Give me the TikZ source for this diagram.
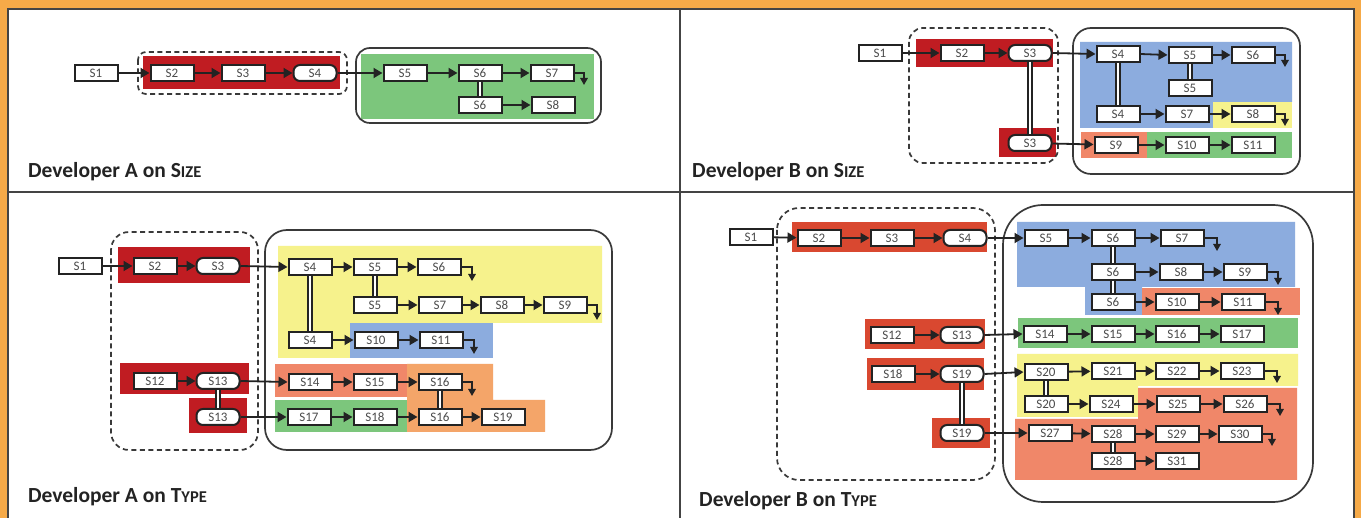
\documentclass[tikz,border=0pt]{standalone}
\usepackage{fontspec}
\setmainfont{Carlito}
\usetikzlibrary{arrows.meta}
\definecolor{frameor}{RGB}{246,170,72}
\definecolor{redA}{RGB}{192,28,34}
\definecolor{redB}{RGB}{217,72,48}
\definecolor{grn}{RGB}{124,198,124}
\definecolor{blu}{RGB}{140,172,222}
\definecolor{yel}{RGB}{246,242,140}
\definecolor{sal}{RGB}{240,135,105}
\definecolor{lor}{RGB}{244,165,105}
\definecolor{ink}{RGB}{35,35,35}
\definecolor{txt}{RGB}{75,75,75}
\tikzset{
  bx/.style={draw=ink, fill=white, line width=2pt, minimum width=43pt, minimum height=16pt, inner sep=0pt, font=\fontsize{13}{13}\selectfont, text=txt},
  rbx/.style={bx, rounded corners=6.5pt},
  arr/.style={draw=ink, line width=1.8pt, -{Triangle[length=9pt,width=10pt]}},
  turn/.style={draw=ink, line width=1.5pt, -{Triangle[length=7pt,width=7.5pt]}},
  dbl/.style={draw=ink, double=white, double distance=2.4pt, line width=1.6pt},
  dsh/.style={draw=ink!90, line width=1.7pt, dash pattern=on 5pt off 3.5pt},
  cont/.style={draw=ink!90, line width=1.7pt},
  captxt/.style={anchor=west, inner sep=0pt, text=ink, font=\bfseries\fontsize{21.5}{24}\selectfont},
  divl/.style={draw=ink!85, line width=2pt}
}
\newcommand{\smc}[1]{{\fontsize{16.5}{18}\selectfont #1}}
\begin{document}
\begin{tikzpicture}[x=1pt,y=-1pt]
\useasboundingbox (0,0) rectangle (1361,518);
% frame
\fill[frameor] (0,0) rectangle (1361,518);
\fill[white] (8,9) rectangle (1355,530);
\draw[divl] (8,530) -- (8,9) -- (1354,9) -- (1354,530);
\draw[divl] (8,192) -- (1354,192);
\draw[divl] (680,9) -- (680,530);

% ===== Panel A on SIZE =====
\fill[grn] (361,54) rectangle (594,119);
\draw[cont,rounded corners=14pt] (356,48) rectangle (601,123);
\fill[redA] (143,56) rectangle (340,89);
\draw[dsh,rounded corners=8pt] (138,52) rectangle (347,94);
\node[bx] (as1) at (96,73) {S1};
\node[bx] (as2) at (172,73) {S2};
\node[bx] (as3) at (243,73) {S3};
\node[rbx] (as4) at (315,73) {S4};
\node[bx] (as5) at (405,73) {S5};
\node[bx] (as6) at (480,73) {S6};
\node[bx] (as7) at (552,73) {S7};
\node[bx] (as6b) at (480,105) {S6};
\node[bx] (as8) at (553,105) {S8};
\coordinate (as7e) at (584,85);
\draw[arr] (as1) -- (as2);
\draw[arr] (as2) -- (as3);
\draw[arr] (as3) -- (as4);
\draw[arr] (as4) -- (as5);
\draw[arr] (as5) -- (as6);
\draw[arr] (as6) -- (as7);
\draw[arr] (as6b) -- (as8);
\draw[dbl] (as6.south) -- (as6b.north);
\draw[turn] (as7.east) -| (as7e);
\node[captxt] (capAS) at (28,172) {Developer A on S\smc{IZE}};

% ===== Panel B on SIZE =====
\fill[blu] (1080,42) -- (1292,42) -- (1292,102) -- (1213,102) -- (1213,128) -- (1080,128) -- cycle;
\fill[yel] (1213,102) rectangle (1292,128);
\fill[sal] (1081,132) rectangle (1147,158);
\fill[grn] (1147,132) rectangle (1292,158);
\draw[cont,rounded corners=18pt] (1073,28) rectangle (1300,174);
\fill[redA] (916,39) rectangle (1053,67);
\fill[redA] (999,128) rectangle (1056,157);
\draw[dsh,rounded corners=14pt] (909,28) rectangle (1058,163);
\node[bx] (bs1) at (880,53) {S1};
\node[bx] (bs2) at (962,53) {S2};
\node[rbx] (bs3) at (1030,53) {S3};
\node[rbx] (bs3b) at (1030,143) {S3};
\node[bx] (bs4) at (1118,54) {S4};
\node[bx] (bs5) at (1190,55) {S5};
\node[bx] (bs6) at (1253,55) {S6};
\node[bx] (bs5b) at (1190,88) {S5};
\node[bx] (bs4b) at (1118,114) {S4};
\node[bx] (bs7) at (1187,114) {S7};
\node[bx] (bs8) at (1253,114) {S8};
\node[bx] (bs9) at (1116,145) {S9};
\node[bx] (bs10) at (1187,145) {S10};
\node[bx] (bs11) at (1253,145) {S11};
\coordinate (bs6e) at (1285,67);
\coordinate (bs8e) at (1285,126);
\draw[arr] (bs1) -- (bs2);
\draw[arr] (bs2) -- (bs3);
\draw[arr] (bs3.east) -- (bs4.west);
\draw[arr] (bs4.east) -- (bs5.west);
\draw[arr] (bs5) -- (bs6);
\draw[arr] (bs4b) -- (bs7);
\draw[arr] (bs7) -- (bs8);
\draw[arr] (bs3b) -- (bs9);
\draw[arr] (bs9) -- (bs10);
\draw[arr] (bs10) -- (bs11);
\draw[dbl] (bs3.south) -- (bs3b.north);
\draw[dbl] (bs4.south) -- (bs4b.north);
\draw[dbl] (bs5.south) -- (bs5b.north);
\draw[turn] (bs6.east) -| (bs6e);
\draw[turn] (bs8.east) -| (bs8e);
\node[captxt] (capBS) at (692,172) {Developer B on S\smc{IZE}};

% ===== Panel A on TYPE =====
\fill[yel] (278,246) -- (602,246) -- (602,323) -- (350,323) -- (350,358) -- (278,358) -- cycle;
\fill[blu] (350,323) rectangle (493,358);
\fill[sal] (275,364) rectangle (407,397);
\fill[lor] (407,364) -- (493,364) -- (493,400) -- (545,400) -- (545,432) -- (407,432) -- cycle;
\fill[grn] (275,400) rectangle (407,432);
\draw[cont,rounded corners=22pt] (265,230) rectangle (612,450);
\fill[redA] (118,247) rectangle (250,283);
\fill[redA] (120,363) rectangle (249,394);
\fill[redA] (189,398) rectangle (247,433);
\draw[dsh,rounded corners=18pt] (111,232) rectangle (258,450);
\node[bx] (at1) at (80,266) {S1};
\node[bx] (at2) at (155,266) {S2};
\node[rbx] (at3) at (218,266) {S3};
\node[bx] (at12) at (155,381) {S12};
\node[rbx] (at13) at (218,381) {S13};
\node[rbx] (at13b) at (218,417) {S13};
\node[bx] (at4) at (310,267) {S4};
\node[bx] (at5) at (375,267) {S5};
\node[bx] (at6) at (439,267) {S6};
\node[bx] (at5b) at (375,305) {S5};
\node[bx] (at7) at (440,305) {S7};
\node[bx] (at8) at (502,305) {S8};
\node[bx] (at9) at (565,305) {S9};
\node[bx] (at4b) at (310,340) {S4};
\node[bx] (at10) at (376,340) {S10};
\node[bx] (at11) at (441,340) {S11};
\node[bx] (at14) at (310,382) {S14};
\node[bx] (at15) at (375,382) {S15};
\node[bx] (at16) at (440,382) {S16};
\node[bx] (at16b) at (440,417) {S16};
\node[bx] (at17) at (309,417) {S17};
\node[bx] (at18) at (375,417) {S18};
\node[bx] (at19) at (503,417) {S19};
\coordinate (at6e) at (472,281);
\coordinate (at9e) at (597,320);
\coordinate (at11e) at (474,354);
\coordinate (at16e) at (472,396);
\draw[arr] (at1) -- (at2);
\draw[arr] (at2) -- (at3);
\draw[arr] (at3.east) -- (at4.west);
\draw[arr] (at12) -- (at13);
\draw[arr] (at13.east) -- (at14.west);
\draw[arr] (at13b) -- (at17);
\draw[arr] (at4) -- (at5);
\draw[arr] (at5) -- (at6);
\draw[arr] (at5b) -- (at7);
\draw[arr] (at7) -- (at8);
\draw[arr] (at8) -- (at9);
\draw[arr] (at4b) -- (at10);
\draw[arr] (at10) -- (at11);
\draw[arr] (at14) -- (at15);
\draw[arr] (at15) -- (at16);
\draw[arr] (at17) -- (at18);
\draw[arr] (at18) -- (at16b);
\draw[arr] (at16b) -- (at19);
\draw[dbl] (at13.south) -- (at13b.north);
\draw[dbl] (at4.south) -- (at4b.north);
\draw[dbl] (at5.south) -- (at5b.north);
\draw[dbl] (at16.south) -- (at16b.north);
\draw[turn] (at6.east) -| (at6e);
\draw[turn] (at9.east) -| (at9e);
\draw[turn] (at11.east) -| (at11e);
\draw[turn] (at16.east) -| (at16e);
\node[captxt] (capAT) at (28,497) {Developer A on T\smc{YPE}};

% ===== Panel B on TYPE =====
\fill[blu] (1017,222) -- (1295,222) -- (1295,287) -- (1142,287) -- (1142,315) -- (1085,315) -- (1085,287) -- (1017,287) -- cycle;
\fill[sal] (1142,288) rectangle (1300,315);
\fill[grn] (1018,318) rectangle (1298,348);
\fill[yel] (1017,354) -- (1298,354) -- (1298,386) -- (1138,386) -- (1138,417) -- (1017,417) -- cycle;
\fill[sal] (1138,388) -- (1297,388) -- (1297,480) -- (1015,480) -- (1015,419) -- (1138,419) -- cycle;
\draw[cont,rounded corners=40pt] (1003,205) rectangle (1313,502);
\fill[redB] (792,222) rectangle (987,252);
\fill[redB] (865,319) rectangle (985,349);
\fill[redB] (867,358) rectangle (984,390);
\fill[redB] (932,418) rectangle (990,448);
\draw[dsh,rounded corners=22pt] (777,208) rectangle (995,480);
\node[bx] (bt1) at (751,237) {S1};
\node[bx] (bt2) at (819,238) {S2};
\node[bx] (bt3) at (892,238) {S3};
\node[rbx] (bt4) at (965,238) {S4};
\node[bx] (bt12) at (892,335) {S12};
\node[rbx] (bt13) at (962,335) {S13};
\node[bx] (bt18) at (893,374) {S18};
\node[rbx] (bt19) at (962,374) {S19};
\node[rbx] (bt19b) at (962,433) {S19};
\node[bx] (bt5) at (1046,238) {S5};
\node[bx] (bt6) at (1113,238) {S6};
\node[bx] (bt7) at (1182,238) {S7};
\node[bx] (bt6b) at (1113,272) {S6};
\node[bx] (bt8) at (1181,272) {S8};
\node[bx] (bt9) at (1245,272) {S9};
\node[bx] (bt6c) at (1113,302) {S6};
\node[bx] (bt10) at (1177,302) {S10};
\node[bx] (bt11) at (1243,302) {S11};
\node[bx] (bt14) at (1045,334) {S14};
\node[bx] (bt15) at (1113,334) {S15};
\node[bx] (bt16) at (1177,334) {S16};
\node[bx] (bt17) at (1242,334) {S17};
\node[bx] (bt20) at (1046,372) {S20};
\node[bx] (bt21) at (1113,371) {S21};
\node[bx] (bt22) at (1177,371) {S22};
\node[bx] (bt23) at (1242,371) {S23};
\node[bx] (bt20b) at (1046,404) {S20};
\node[bx] (bt24) at (1111,404) {S24};
\node[bx] (bt25) at (1178,404) {S25};
\node[bx] (bt26) at (1245,404) {S26};
\node[bx] (bt27) at (1050,433) {S27};
\node[bx] (bt28) at (1113,434) {S28};
\node[bx] (bt29) at (1177,434) {S29};
\node[bx] (bt30) at (1240,434) {S30};
\node[bx] (bt28b) at (1113,461) {S28};
\node[bx] (bt31) at (1177,461) {S31};
\coordinate (bt7e) at (1217,251);
\coordinate (bt9e) at (1278,285);
\coordinate (bt11e) at (1278,315);
\coordinate (bt23e) at (1277,383);
\coordinate (bt26e) at (1280,416);
\coordinate (bt30e) at (1272,446);
\draw[arr] (bt1) -- (bt2);
\draw[arr] (bt2) -- (bt3);
\draw[arr] (bt3) -- (bt4);
\draw[arr] (bt4.east) -- (bt5.west);
\draw[arr] (bt12) -- (bt13);
\draw[arr] (bt13.east) -- (bt14.west);
\draw[arr] (bt18) -- (bt19);
\draw[arr] (bt19.east) -- (bt20.west);
\draw[arr] (bt19b.east) -- (bt27.west);
\draw[arr] (bt5) -- (bt6);
\draw[arr] (bt6) -- (bt7);
\draw[arr] (bt6b) -- (bt8);
\draw[arr] (bt8) -- (bt9);
\draw[arr] (bt6c) -- (bt10);
\draw[arr] (bt10) -- (bt11);
\draw[arr] (bt14) -- (bt15);
\draw[arr] (bt15) -- (bt16);
\draw[arr] (bt16) -- (bt17);
\draw[arr] (bt20) -- (bt21);
\draw[arr] (bt21) -- (bt22);
\draw[arr] (bt22) -- (bt23);
\draw[arr] (bt20b) -- (bt24);
\draw[arr] (bt24) -- (bt25);
\draw[arr] (bt25) -- (bt26);
\draw[arr] (bt27) -- (bt28);
\draw[arr] (bt28) -- (bt29);
\draw[arr] (bt29) -- (bt30);
\draw[arr] (bt28b) -- (bt31);
\draw[dbl] (bt19.south) -- (bt19b.north);
\draw[dbl] (bt6.south) -- (bt6b.north);
\draw[dbl] (bt6b.south) -- (bt6c.north);
\draw[dbl] (bt20.south) -- (bt20b.north);
\draw[dbl] (bt28.south) -- (bt28b.north);
\draw[turn] (bt7.east) -| (bt7e);
\draw[turn] (bt9.east) -| (bt9e);
\draw[turn] (bt11.east) -| (bt11e);
\draw[turn] (bt23.east) -| (bt23e);
\draw[turn] (bt26.east) -| (bt26e);
\draw[turn] (bt30.east) -| (bt30e);
\node[captxt] (capBT) at (699,501) {Developer B on T\smc{YPE}};
\end{tikzpicture}
\end{document}
